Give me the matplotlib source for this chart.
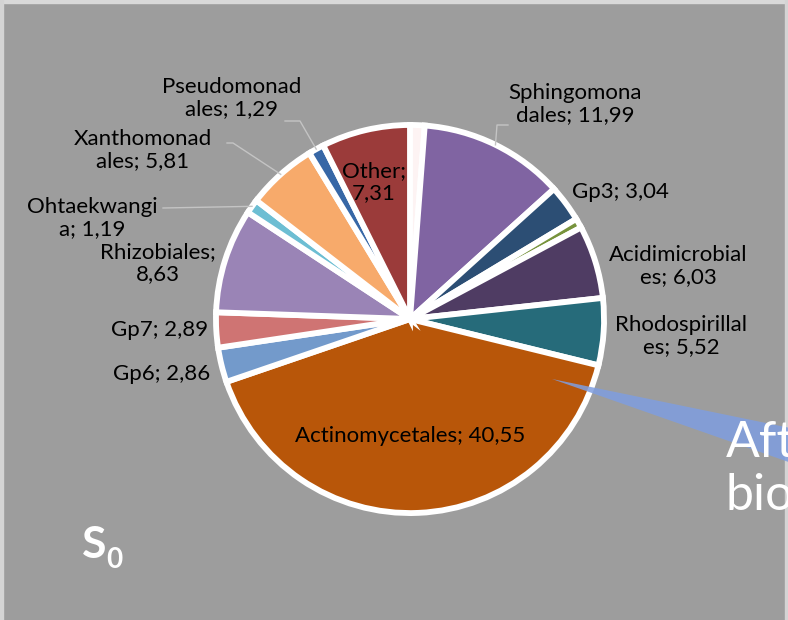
import matplotlib
matplotlib.use('Agg')
import matplotlib.pyplot as plt
import numpy as np
from matplotlib.patches import Polygon, Rectangle

# ---------------- data ----------------
names = ['', 'Sphingomonadales', 'Gp3', '', 'Acidimicrobiales', 'Rhodospirillales',
         'Actinomycetales', 'Gp6', 'Gp7', 'Rhizobiales', 'Ohtaekwangia',
         'Xanthomonadales', 'Pseudomonadales', 'Other']
values = [1.2, 11.99, 3.04, 0.8, 6.03, 5.52, 40.55, 2.86, 2.89, 8.63, 1.19, 5.81, 1.29, 7.31]
colors = ['#fdf3f3', '#8064a2', '#2c4e74', '#77933c', '#4f3c63', '#266b7a',
          '#b85609', '#739acb', '#cf7473', '#9a84b6', '#6dbed3',
          '#f7aa6b', '#3767a6', '#9b3b3a']
explode = [0.035, 0.035, 0.035, 0.035, 0.035, 0.035, 0.06, 0.035, 0.035, 0.035, 0.035, 0.035, 0.035, 0.035]

# label wrapping (chars on first line; 'semi' = break after ';'; None = one line)
wraps = [None, 11, None, None, 14, 14, None, None, None, 'semi', 11, 11, 11, 'semi']
# label centres in pixel coordinates (layout)
label_pos = {1: (575, 104), 2: (620, 192), 4: (678, 266), 5: (681, 336),
             6: (410, 436), 7: (162, 374), 8: (160, 330), 9: (158, 263),
             10: (92, 218), 11: (143, 150), 12: (232, 98), 13: (374, 182)}
# leader line start points (layout)
leaders = {12: [(285, 121), (300, 121)], 11: [(227, 143), (233, 143)],
           10: [(163, 208)], 1: [(508, 125), (497, 125)]}

def make_label(name, val, k):
    s = f"{name}; {val:.2f}".replace('.', ',')
    if k is None:
        return s
    if k == 'semi':
        return s.replace('; ', ';\n')
    return s[:k] + '\n' + s[k:]

W, H = 788, 620
fig = plt.figure(figsize=(W / 100, H / 100), dpi=100)
fig.patch.set_facecolor('#9d9d9d')
ax = fig.add_axes([0, 0, 1, 1])

FONT = ['Lato', 'DejaVu Sans']

center = (410, 319)
radius = 194
wedges, _ = ax.pie(values, colors=colors, explode=explode, startangle=-90,
                   counterclock=True, center=center, radius=radius,
                   wedgeprops=dict(edgecolor='white', linewidth=4.2), frame=True)
ax.set_xlim(0, W)
ax.set_ylim(H, 0)
ax.set_aspect('equal')
ax.axis('off')

# borders
ax.add_patch(Rectangle((0, 0), W, 2.5, color='#d9d9d9', zorder=0))
ax.add_patch(Rectangle((0, 0), 3.5, H, color='#d4d4d4', zorder=0))
ax.add_patch(Rectangle((W - 2.5, 0), 2.5, H, color='#d4d4d4', zorder=0))

# leader lines
for i, pts in leaders.items():
    w = wedges[i]
    mid = np.deg2rad((w.theta1 + w.theta2) / 2)
    end = (w.center[0] + w.r * np.cos(mid), w.center[1] + w.r * np.sin(mid))
    xs = [p[0] for p in pts] + [end[0]]
    ys = [p[1] for p in pts] + [end[1]]
    ax.plot(xs, ys, color='#c4c4c4', lw=1.0, zorder=1)

# data labels
for i, (x, y) in label_pos.items():
    ax.text(x, y, make_label(names[i], values[i], wraps[i]), ha='center', va='center',
            fontsize=16, family=FONT, color='black', linespacing=1.15, zorder=5)

# decorative arrow shape and overlay text (cut at the right edge as in the reference)
ax.add_patch(Polygon([(552, 379), (800, 430), (800, 466)], closed=True,
                     facecolor='#7f9ee0', edgecolor='none', alpha=0.85, zorder=6))
ax.text(726, 457, 'Aft', fontsize=36, family=FONT, fontweight='normal',
        color='white', ha='left', va='baseline', zorder=7)
ax.text(726, 510, 'bio', fontsize=36, family=FONT, fontweight='normal',
        color='white', ha='left', va='baseline', zorder=7)

# S0 label
ax.text(82, 558, 'S', fontsize=32, family=FONT, fontweight='bold',
        color='white', ha='left', va='baseline', zorder=7)
ax.text(106, 568, '0', fontsize=20, family=FONT, fontweight='bold',
        color='white', ha='left', va='baseline', zorder=7)

fig.savefig('out.png', dpi=100, facecolor=fig.get_facecolor())
